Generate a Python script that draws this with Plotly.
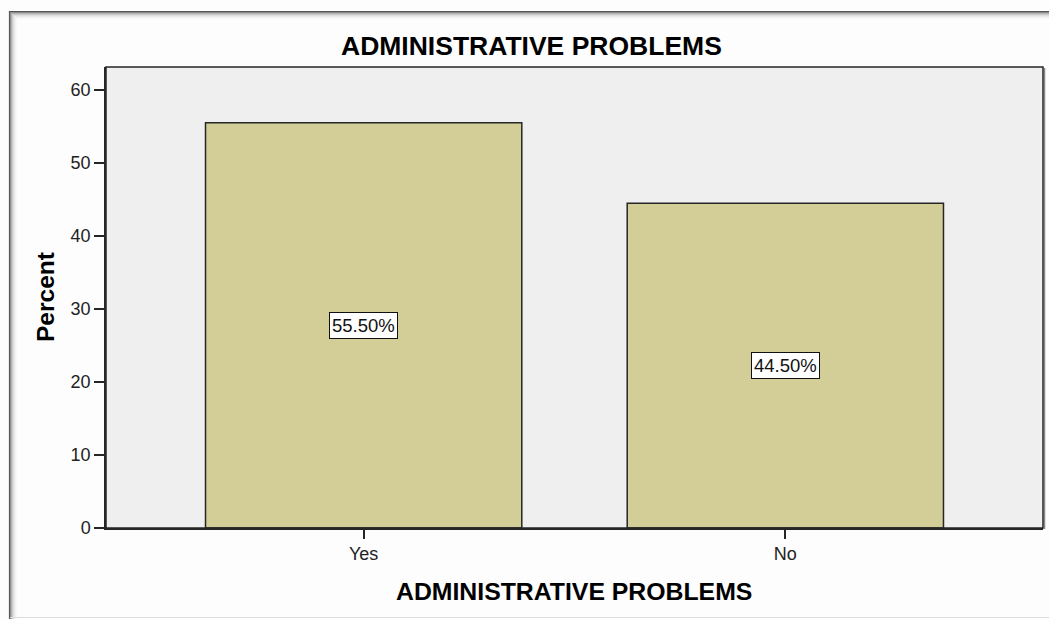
import plotly.graph_objects as go

# Survey responses: share of respondents reporting administrative problems
categories = ["Yes", "No"]
percents = [55.5, 44.5]
bar_labels = ["55.50%", "44.50%"]
y_ticks = [0, 10, 20, 30, 40, 50, 60]

W, H = 1049, 619
# plot area in pixels
PL, PR, PT, PB = 106, 1043, 67, 528


def px_x(x):
    return x / W


def px_y(y):
    return 1 - y / H


FONT = "Liberation Sans, Arial, sans-serif"
BAR_COLOR = "#d3ce97"
EDGE = "#262626"

xpos = list(range(len(categories)))

fig = go.Figure()
fig.add_trace(go.Bar(
    x=xpos,
    y=percents,
    width=0.75,
    marker=dict(color=BAR_COLOR, line=dict(color=EDGE, width=1.5)),
    hoverinfo="skip",
    showlegend=False,
))

# value labels boxed in the middle of each bar
for xi, v, lab in zip(xpos, percents, bar_labels):
    fig.add_annotation(
        x=xi, y=v / 2, xref="x", yref="y", text=lab, showarrow=False,
        font=dict(family=FONT, size=18.5, color="#111111"),
        bgcolor="white", bordercolor="#111111", borderwidth=1, borderpad=2,
    )

# chart title and axis titles
fig.add_annotation(
    x=px_x(531), y=px_y(46), xref="paper", yref="paper",
    text="<b>ADMINISTRATIVE PROBLEMS</b>", showarrow=False,
    font=dict(family=FONT, size=26.5, color="#000000"),
    xanchor="center", yanchor="middle",
)
fig.add_annotation(
    x=px_x(574), y=px_y(591), xref="paper", yref="paper",
    text="<b>ADMINISTRATIVE PROBLEMS</b>", showarrow=False,
    font=dict(family=FONT, size=24.8, color="#000000"),
    xanchor="center", yanchor="middle",
)
fig.add_annotation(
    x=px_x(45), y=px_y(297), xref="paper", yref="paper",
    text="<b>Percent</b>", showarrow=False, textangle=-90,
    font=dict(family=FONT, size=24.5, color="#000000"),
    xanchor="center", yanchor="middle",
)

shapes = []
# outer frame with a soft shadow along its top and left edges
shades = ["#555555", "#8a8a8a", "#b0b0b0", "#cbcbcb", "#dddddd", "#e9e9e9", "#f2f2f2", "#f8f8f8"]
for i, c in enumerate(shades):
    shapes.append(dict(type="line", xref="paper", yref="paper",
                       x0=px_x(9.5 + i), x1=px_x(9.5 + i),
                       y0=px_y(11 + i), y1=px_y(619),
                       line=dict(color=c, width=1.2)))
    shapes.append(dict(type="line", xref="paper", yref="paper",
                       x0=px_x(9.5 + i), x1=px_x(1049),
                       y0=px_y(11.5 + i), y1=px_y(11.5 + i),
                       line=dict(color=c, width=1.2)))
shapes.append(dict(type="line", xref="paper", yref="paper",
                   x0=px_x(10), x1=px_x(1049), y0=px_y(617.5), y1=px_y(617.5),
                   line=dict(color="#dcdcdc", width=1)))
# plot-area border with a slight shadow on the right
shapes.append(dict(type="line", xref="paper", yref="paper",
                   x0=px_x(PR + 1.5), x1=px_x(PR + 1.5), y0=px_y(PT + 1), y1=px_y(PB + 1),
                   line=dict(color="#888888", width=1.5)))
shapes.append(dict(type="rect", xref="paper", yref="paper",
                   x0=px_x(PL), x1=px_x(PR), y0=px_y(PB), y1=px_y(PT),
                   line=dict(color=EDGE, width=1.5), layer="above"))

fig.update_layout(
    width=W, height=H,
    margin=dict(l=0, r=0, t=0, b=0, autoexpand=False),
    paper_bgcolor="#fdfdfd",
    plot_bgcolor="#efefef",
    font=dict(family=FONT, size=18, color="#222222"),
    shapes=shapes,
    bargap=0.25,
    xaxis=dict(
        domain=[px_x(PL), px_x(PR)],
        range=[-0.611, 1.611],
        tickmode="array", tickvals=xpos, ticktext=categories,
        ticks="outside", ticklen=9, tickwidth=1.5, tickcolor=EDGE,
        showgrid=False, zeroline=False,
        showline=True, linecolor=EDGE, linewidth=1.5,
        tickfont=dict(family=FONT, size=18, color="#222222"),
        fixedrange=True,
    ),
    yaxis=dict(
        domain=[px_y(PB), px_y(PT)],
        range=[0, 63.15],
        tickmode="array", tickvals=y_ticks,
        ticks="outside", ticklen=10, tickwidth=1.5, tickcolor=EDGE,
        showgrid=False, zeroline=False,
        showline=True, linecolor=EDGE, linewidth=1.5,
        tickfont=dict(family=FONT, size=18, color="#222222"),
        fixedrange=True,
    ),
)

fig.write_html("out.html", config={"displayModeBar": False})
